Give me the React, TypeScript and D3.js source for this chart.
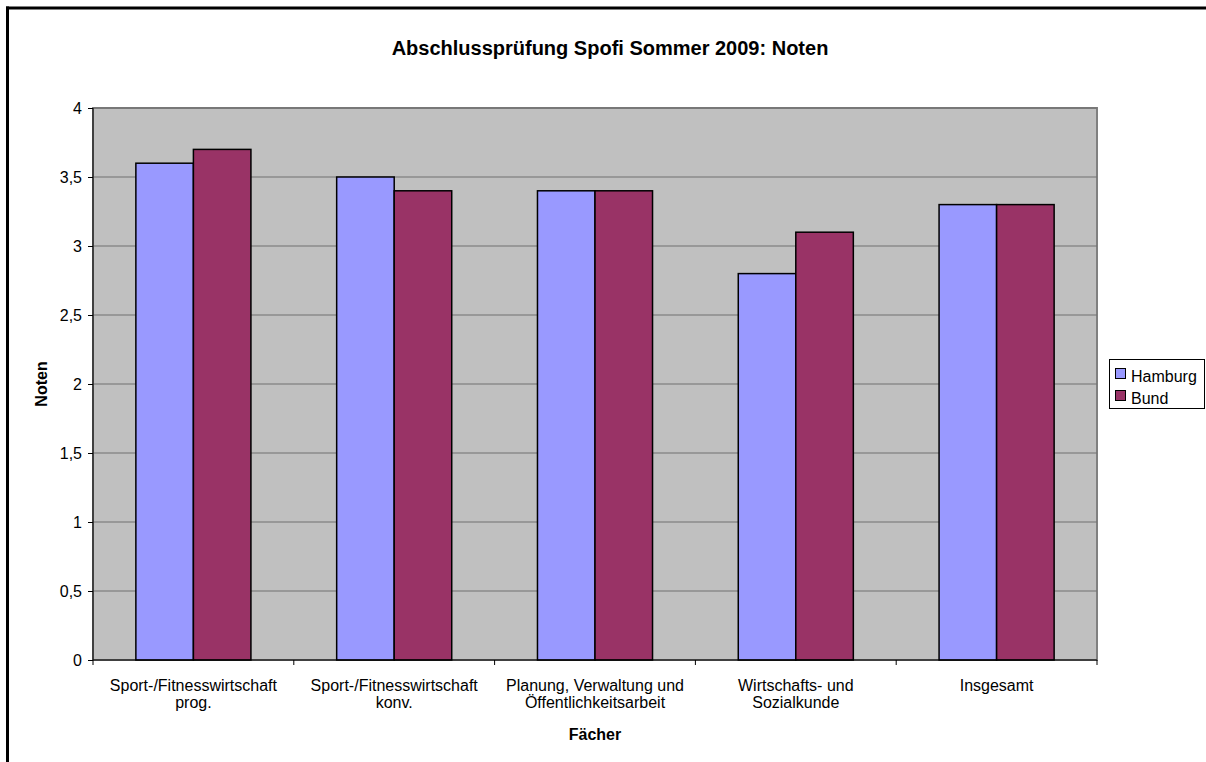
import { useEffect, useRef } from "react";
import * as d3 from "d3";

const categories = [
  ["Sport-/Fitnesswirtschaft", "prog."],
  ["Sport-/Fitnesswirtschaft", "konv."],
  ["Planung, Verwaltung und", "Öffentlichkeitsarbeit"],
  ["Wirtschafts- und", "Sozialkunde"],
  ["Insgesamt"],
];
const seriesNames = ["Hamburg", "Bund"];
const hamburg = [3.6, 3.5, 3.4, 2.8, 3.3];
const bund = [3.7, 3.4, 3.4, 3.1, 3.3];
const yTicks = [0, 0.5, 1, 1.5, 2, 2.5, 3, 3.5, 4];
const colors = ["#9999ff", "#993366"];

const W = 1206;
const H = 762;
const marginLeft = 93;
const marginRight = 1097;
const marginTop = 108;
const marginBottom = 660;
const font = "Liberation Sans, Arial, sans-serif";

export default function App() {
  const xAxis = useRef(null);
  const yAxis = useRef(null);

  const idx = categories.map((_, i) => i);
  const x = d3.scaleBand<number>().domain(idx).range([marginLeft, marginRight]).paddingInner(0).paddingOuter(0);
  const inner = d3.scaleBand<number>().domain([0, 1]).range([0, x.bandwidth() * 0.573]);
  const groupOffset = (x.bandwidth() - x.bandwidth() * 0.573) / 2;
  const y = d3.scaleLinear().domain([0, 4]).range([marginBottom, marginTop]);
  const fmt = (v: number) => String(v).replace(".", ",");
  const series = [hamburg, bund];

  useEffect(() => {
    const gy = d3.select(yAxis.current);
    gy.selectAll("*").remove();
    gy.call(d3.axisLeft(y).tickValues(yTicks).tickFormat((d: any) => fmt(d)).tickSize(5).tickPadding(6) as any);
    gy.select(".domain").remove();
    gy.selectAll("text").attr("font-size", 16).attr("font-family", font).attr("fill", "#000");
    gy.selectAll("line").attr("stroke", "#000");

    const gx = d3.select(xAxis.current);
    gx.selectAll("*").remove();
    const bounds = d3.range(categories.length + 1).map((i) => marginLeft + i * x.step());
    gx.selectAll("line.tk")
      .data(bounds)
      .join("line")
      .attr("class", "tk")
      .attr("x1", (d) => d)
      .attr("x2", (d) => d)
      .attr("y1", marginBottom)
      .attr("y2", marginBottom + 5)
      .attr("stroke", "#000");
  }, []);

  return (
    <svg width={W} height={H} style={{ position: "absolute", left: 0, top: 0 }}>
      <rect x={0} y={0} width={W} height={H} fill="#fff" />
      <line x1={6} x2={W} y1={8} y2={8} stroke="#000" strokeWidth={3} />
      <line x1={7.5} x2={7.5} y1={6.5} y2={H} stroke="#000" strokeWidth={3} />

      <text x={(marginLeft + marginRight) / 2 + 15} y={55} textAnchor="middle" fontFamily={font} fontWeight="bold" fontSize={20}>
        Abschlussprüfung Spofi Sommer 2009: Noten
      </text>

      <rect x={marginLeft} y={marginTop} width={marginRight - marginLeft} height={marginBottom - marginTop} fill="#c0c0c0" stroke="#808080" strokeWidth={2} />
      {yTicks.filter((t) => t > 0).map((t) => (
        <line key={t} x1={marginLeft} x2={marginRight} y1={y(t)} y2={y(t)} stroke="#707070" strokeWidth={1} />
      ))}

      {series.map((vals, s) =>
        vals.map((v, i) => (
          <rect
            key={`${s}-${i}`}
            x={(x(i) as number) + groupOffset + (inner(s) as number)}
            y={y(v)}
            width={inner.bandwidth()}
            height={y(0) - y(v)}
            fill={colors[s]}
            stroke="#000"
            strokeWidth={1.5}
          />
        ))
      )}

      <line x1={marginLeft} x2={marginLeft} y1={marginTop} y2={marginBottom} stroke="#000" strokeWidth={1} />
      <line x1={marginLeft} x2={marginRight} y1={marginBottom} y2={marginBottom} stroke="#000" strokeWidth={1} />
      <g ref={yAxis} transform={`translate(${marginLeft},0)`} />
      <g ref={xAxis} />

      {categories.map((lines, i) => (
        <text key={i} x={(x(i) as number) + x.bandwidth() / 2} textAnchor="middle" fontFamily={font} fontSize={16}>
          {lines.map((l, j) => (
            <tspan key={j} x={(x(i) as number) + x.bandwidth() / 2} y={691 + j * 17}>
              {l}
            </tspan>
          ))}
        </text>
      ))}

      <text x={(marginLeft + marginRight) / 2} y={740} textAnchor="middle" fontFamily={font} fontWeight="bold" fontSize={16}>
        Fächer
      </text>
      <text transform={`translate(47,${(marginTop + marginBottom) / 2}) rotate(-90)`} textAnchor="middle" fontFamily={font} fontWeight="bold" fontSize={16}>
        Noten
      </text>

      <rect x={1109.5} y={359.5} width={95} height={49} fill="#fff" stroke="#000" strokeWidth={1} />
      {seriesNames.map((n, i) => (
        <g key={n} transform={`translate(1115,${368 + i * 22})`}>
          <rect x={0.5} y={0.5} width={10} height={10} fill={colors[i]} stroke="#000" strokeWidth={1} />
          <text x={16} y={13.5} fontFamily={font} fontSize={16}>
            {n}
          </text>
        </g>
      ))}
    </svg>
  );
}
